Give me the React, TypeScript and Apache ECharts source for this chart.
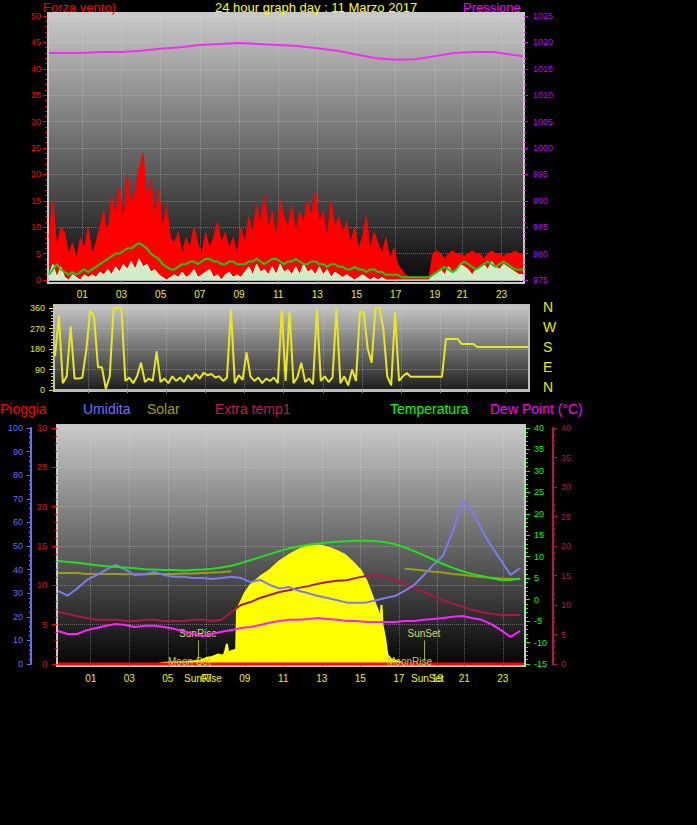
import React, { useEffect, useRef } from 'react';
import * as echarts from 'echarts';

// ---------- axis domain (sample position, roughly hours) ----------
const X_MIN = -0.7;
const X_MAX = 23.5;
const hourLabels = ['01', '03', '05', '07', '09', '11', '13', '15', '17', '19', '21', '23'];
const hourTickPos = [1, 3, 5, 7, 9, 11, 13, 15, 17, 19, 20.4, 22.4];

// ---------- top chart: wind (every 0.2 step) ----------
const windGust = [
  8, 15, 6, 10, 9, 5, 7, 4, 8, 6,
  10, 5, 7, 10, 13, 8, 16, 12, 18, 11,
  20, 14, 17, 21, 24, 15, 19, 12, 17, 10,
  14, 8, 7, 9, 5, 8, 6, 10, 7, 5,
  9, 6, 8, 11, 7, 9, 6, 8, 5, 10,
  7, 12, 9, 14, 11, 16, 10, 13, 8, 15,
  12, 10, 14, 9, 13, 11, 15, 12, 17, 11,
  13, 8, 15, 10, 12, 9, 11, 7, 10, 6,
  8, 12, 6, 9, 7, 5, 8, 4, 6, 3,
  2, 1, 0.5, 0.5, 0.5, 0.5, 0.5, 0.5, 5, 5.5,
  5, 4, 5, 5.5, 5, 5, 4.5, 5, 5.5, 5,
  5, 4, 5, 5.5, 5, 5, 4.5, 5, 5, 5.5,
  5, 5,
];
const windAvg = [
  1, 2, 3, 2, 1.5, 1, 1.5, 1, 1.5, 2,
  1.5, 2, 2.5, 3, 3.5, 4, 4.5, 5, 5, 5.5,
  6, 6, 6.5, 7, 6.5, 6, 5, 4.5, 4, 3,
  2.5, 2, 2, 2.5, 3, 3, 3.5, 3.5, 3, 3.5,
  4, 4, 3.5, 3.5, 3, 3, 3.5, 3.5, 3, 3,
  3, 3.5, 3.5, 4, 3.5, 3, 3.5, 4, 4, 3.5,
  3, 3.5, 3.5, 4, 3.5, 3, 3, 3.5, 3.5, 3,
  3, 2.5, 3, 3, 2.5, 2.5, 2, 2, 2.5, 2,
  2, 1.5, 2, 2, 1.5, 1.5, 1, 1, 1, 1,
  0.5, 0.5, 0.5, 0.5, 0.5, 0.5, 0.5, 0.5, 1, 1.5,
  2, 2.5, 2, 1.5, 2, 3, 3.5, 3, 2.5, 2,
  2.5, 3, 3.5, 3, 2.5, 3, 3.5, 3, 2.5, 2,
  2, 2,
];
const windNow = [
  1, 3, 0.5, 2.5, 0.5, 0, 1, 0.5, 0, 1,
  0.5, 1, 0.5, 1.5, 1, 2, 1, 2.5, 1.5, 3,
  2, 3.5, 2, 4, 2.5, 3, 1.5, 2, 1, 0.5,
  0, 0.5, 1, 0.5, 1.5, 0.5, 1, 2, 0.5, 1,
  1.5, 2, 0.5, 1, 0, 1, 1.5, 0.5, 1, 0.5,
  1.5, 2.5, 1, 3, 1.5, 2, 1, 2.5, 1, 3,
  1.5, 2, 1, 2.5, 1, 3, 1.5, 2, 1, 2.5,
  1, 2, 0.5, 1.5, 1, 0.5, 1, 0.5, 0, 0.5,
  1, 0.5, 0, 0.5, 0, 0.5, 0, 0, 0, 0,
  0, 0, 0, 0, 0, 0, 0, 0, 1, 1.5,
  2, 1, 2.5, 1.5, 2, 3, 2.5, 2, 1, 2,
  2.5, 3, 2, 3.5, 2.5, 2, 3, 2.5, 2, 1.5,
  1, 1,
];
const pressureTimes = [-0.7, 1, 2, 3, 4, 5, 6, 7, 8, 9, 10, 11, 12, 13, 14, 15, 16, 17, 18, 19, 20, 21, 22, 23, 23.5];
const pressure = [
  1018.0, 1018.0, 1018.2, 1018.2, 1018.4, 1018.8, 1019.1, 1019.5, 1019.7, 1019.9,
  1019.7, 1019.5, 1019.3, 1018.9, 1018.4, 1017.7, 1017.0, 1016.7, 1016.8, 1017.4,
  1018.0, 1018.2, 1018.2, 1017.6, 1017.4,
];

// ---------- middle chart: wind direction (every 0.2 step) ----------
const windDir = [
  150, 325, 30, 60, 280, 50, 50, 55, 175, 350,
  320, 100, 100, 5, 60, 360, 360, 360, 40, 55,
  30, 60, 120, 35, 50, 40, 170, 35, 50, 30,
  60, 40, 55, 35, 65, 45, 70, 50, 75, 65,
  70, 55, 60, 40, 55, 355, 30, 65, 45, 165,
  60, 40, 55, 30, 50, 40, 55, 30, 350, 40,
  345, 30, 55, 120, 35, 50, 25, 355, 40, 60,
  35, 55, 360, 30, 60, 20, 90, 40, 345, 340,
  180, 120, 360, 360, 270, 60, 20, 340, 40, 60,
  75, 58, 58, 58, 58, 58, 58, 58, 58, 58,
  224, 224, 224, 224, 202, 202, 202, 202, 189, 189,
  189, 189, 189, 189, 189, 189, 189, 189, 189, 189,
  189, 189,
];
const compassLabels = ['N', 'W', 'S', 'E', 'N'];

// ---------- bottom chart (every 0.5 step) ----------
const humidity = [
  31, 29, 32, 35.6, 37.7, 40, 42, 40, 37.7, 38,
  39, 37.7, 37, 37, 36.4, 36.4, 36, 36.4, 37, 36.4,
  34.7, 35.6, 33.5, 32, 32.6, 31, 30, 28.8, 28, 27,
  26, 26, 26, 27, 28, 28.8, 31, 33.5, 37.7, 42,
  46, 56, 69, 65, 57, 50, 44, 37.7, 40.7,
];
const temperature = [
  9.0, 8.8, 8.6, 8.3, 8.0, 7.8, 7.6, 7.5, 7.3, 7.1,
  7.0, 6.9, 6.9, 6.8, 6.9, 7.0, 7.2, 7.5, 7.9, 8.5,
  9.2, 9.9, 10.6, 11.3, 11.9, 12.4, 12.8, 13.1, 13.3, 13.5,
  13.6, 13.7, 13.7, 13.6, 13.4, 12.9, 12.2, 11.3, 10.3, 9.3,
  8.3, 7.4, 6.6, 6.0, 5.5, 5.0, 4.6, 4.6, 4.9,
];
const dewPoint = [
  -7.3, -8.0, -8.0, -7.1, -6.6, -6.1, -5.7, -5.9, -6.4, -6.1,
  -6.1, -6.4, -6.8, -7.3, -8.0, -8.5, -8.0, -7.5, -7.1, -6.6,
  -6.4, -5.9, -5.4, -5.0, -4.7, -4.7, -4.5, -4.3, -4.5, -4.7,
  -5.0, -5.0, -5.2, -5.2, -5.2, -5.2, -5.0, -5.0, -4.7, -4.5,
  -4.3, -4.0, -3.8, -4.3, -4.7, -5.7, -7.1, -8.7, -7.3,
];
const extraTemp1 = [
  8.8, 8.5, 8.1, 7.8, 7.5, 7.5, 7.5, 7.3, 7.3, 7.5,
  7.5, 7.3, 7.3, 7.3, 7.5, 7.5, 7.3, 7.5, 8.8, 10.0,
  10.5, 11.2, 11.7, 12.2, 12.5, 12.9, 13.2, 13.6, 13.9, 14.1,
  14.2, 14.6, 14.9, 15.1, 14.9, 14.2, 13.6, 12.9, 12.2, 11.5,
  10.8, 10.2, 9.7, 9.2, 8.8, 8.5, 8.3, 8.3, 8.3,
];
const solarLine = [
  6.2, 6.2, 6.2, 6.0, 6.0, 6.0, 6.0, 5.9, 5.9, 5.9,
  6.0, 6.0, 6.0, 6.1, 6.1, 6.2, 6.3, 6.4, 6.6, null,
  null, null, null, null, null, null, null, null, null, null,
  null, null, null, null, null, null, 7.2, 7.0, 6.8, 6.5,
  6.3, 6.0, 5.8, 5.5, 5.3, 5.1, 4.9, 4.8, 4.8,
];
const solarTimes = [
  -0.7, 4.5, 4.8, 6.0, 6.7, 7.0, 7.3, 7.6, 7.9, 8.0, 8.07, 8.15, 8.3, 8.55,
  8.6, 9.0, 9.3, 9.8, 10.3, 10.8, 11.3, 11.8, 12.1, 12.6, 13.0, 13.4, 13.8, 14.2,
  14.6, 15.0, 15.3, 15.5, 15.7, 15.9, 16.05, 16.1, 16.15, 16.3, 16.4, 16.6, 17.0, 17.3, 23.5,
];
const solarValues = [
  0, 0, 5, 8, 15, 25, 30, 40, 35, 60, 85, 45, 55, 60,
  229, 300, 335, 370, 398, 435, 462, 485, 496, 504, 500, 492, 478, 462,
  432, 398, 355, 314, 270, 229, 190, 250, 165, 102, 40, 20, 10, 0, 0,
];
const rainTimes = [-0.7, 23.5];
const rainValues = [0, 0];
const sunRise = 6.57;
const sunSet = 18.3;

const zip = (xs: number[], ys: (number | null)[]) => ys.map((y, i) => [xs[i], y]);
const topTimes = windGust.map((_, i) => +(X_MIN + i * 0.2).toFixed(2));
const bottomTimes = humidity.map((_, i) => +(X_MIN + i * 0.5).toFixed(2));

const FONT = 'Arial, "Liberation Sans", sans-serif';

const xLabelFmt = (v: number) => {
  let best = 0;
  for (let i = 0; i < hourTickPos.length; i++) {
    if (Math.abs(hourTickPos[i] - v) < Math.abs(hourTickPos[best] - v)) best = i;
  }
  return hourLabels[best];
};

const grad = (stops: [number, string][]) => ({
  type: 'linear', x: 0, y: 0, x2: 0, y2: 1,
  colorStops: stops.map(([offset, color]) => ({ offset, color })),
});

const dotted = { show: true, lineStyle: { color: 'rgba(225,225,225,0.35)', type: 'dotted', width: 1 } };

const makeX = (gridIndex: number, showLabel: boolean) => ({
  gridIndex, type: 'value', min: X_MIN, max: X_MAX,
  axisLine: { show: true, lineStyle: { color: '#b8b8b8', width: 2 } },
  axisTick: { show: true, customValues: hourTickPos, length: 3, lineStyle: { color: '#909090' } },
  axisLabel: {
    show: showLabel, customValues: hourTickPos, formatter: xLabelFmt,
    color: '#f0f000', fontSize: 10, fontFamily: FONT, margin: 9,
  },
  splitLine: dotted,
});

// main axes: labels (+ optional split lines), ticks come from companion axes
const yAx = (o: any) => ({
  type: 'value',
  axisLine: { show: false },
  axisTick: { show: false },
  axisLabel: {
    color: o.labelColor || o.color, fontSize: 9, fontFamily: FONT, margin: o.margin ?? 7,
    formatter: (v: number) => String(v),
  },
  splitLine: { show: false },
  ...o.extra,
  gridIndex: o.gridIndex, min: o.min, max: o.max, interval: o.interval,
  position: o.position, offset: o.offset || 0,
});

// companion axes that only draw ticks
const tickAx = (gridIndex: number, min: number, max: number, interval: number, position: string, offset: number, color: string, length: number) => ({
  type: 'value', gridIndex, min, max, interval, position, offset,
  axisLine: { show: false },
  axisTick: { show: true, length, lineStyle: { color } },
  axisLabel: { show: false },
  splitLine: { show: false },
});

const text = (x: number, y: number, t: string, fill: string, size: number, align = 'left') => ({
  type: 'text', x, y, z: 50, silent: true,
  style: { text: t, fill, font: `${size}px ${FONT}`, textAlign: align, textVerticalAlign: 'middle', verticalAlign: 'middle' },
});

export default function App() {
  const ref = useRef<HTMLDivElement>(null);
  useEffect(() => {
    if (!ref.current) return;
    const chart = echarts.init(ref.current, null, { renderer: 'svg' });
    const lineBase = { type: 'line', showSymbol: false, symbol: 'none', smooth: false, animation: false, connectNulls: false };
    const option: any = {
      animation: false,
      backgroundColor: '#000000',
      grid: [
        { left: 49, top: 16, width: 474, height: 264 },
        { left: 55, top: 308, width: 473, height: 82 },
        { left: 58, top: 428, width: 466, height: 236 },
      ],
      xAxis: [makeX(0, true), makeX(1, false), makeX(2, true)],
      yAxis: [
        // 0-7: main axes
        yAx({ gridIndex: 0, min: 0, max: 50, interval: 5, position: 'left', offset: 2, color: '#ff0000', margin: 6,
          extra: { splitLine: dotted } }),
        yAx({ gridIndex: 0, min: 975, max: 1025, interval: 5, position: 'right', offset: 1, color: '#e000e0', labelColor: '#c000ff', margin: 9 }),
        yAx({ gridIndex: 1, min: 0, max: 360, interval: 90, position: 'left', offset: 2, color: '#e8e800', margin: 8,
          extra: { splitLine: dotted } }),
        yAx({ gridIndex: 2, min: 0, max: 30, interval: 5, position: 'left', offset: 1, color: '#ff0000', margin: 10,
          extra: { splitLine: dotted } }),
        yAx({ gridIndex: 2, min: 0, max: 100, interval: 10, position: 'left', offset: 27, color: '#6a6aff', margin: 8,
          extra: { axisLine: { show: true, lineStyle: { color: '#6a6aff', width: 2 } } } }),
        yAx({ gridIndex: 2, min: -15, max: 40, interval: 5, position: 'right', offset: 2, color: '#00ff00', margin: 8 }),
        yAx({ gridIndex: 2, min: 0, max: 40, interval: 5, position: 'right', offset: 29, color: '#b01848', margin: 8,
          extra: { axisLine: { show: true, lineStyle: { color: '#b01848', width: 2 } } } }),
        { gridIndex: 2, type: 'value', min: 0, max: 1000, show: false, position: 'right', splitLine: { show: false } },
        // 8-14: small ticks
        tickAx(0, 0, 50, 1, 'left', 2, '#ff0000', 2),
        tickAx(0, 975, 1025, 1, 'right', 1, '#e000e0', 2),
        tickAx(1, 0, 360, 15, 'left', 2, '#e8e800', 2),
        tickAx(2, 0, 30, 1, 'left', 1, '#ff0000', 2),
        tickAx(2, 0, 100, 2, 'left', 27, '#6a6aff', 2),
        tickAx(2, -15, 40, 1, 'right', 2, '#00ff00', 2),
        tickAx(2, 0, 40, 1, 'right', 29, '#b01848', 2),
        // 15-21: major ticks
        tickAx(0, 0, 50, 5, 'left', 2, '#ff0000', 4),
        tickAx(0, 975, 1025, 5, 'right', 1, '#e000e0', 4),
        tickAx(1, 0, 360, 90, 'left', 2, '#e8e800', 4),
        tickAx(2, 0, 30, 5, 'left', 1, '#ff0000', 5),
        tickAx(2, 0, 100, 10, 'left', 27, '#6a6aff', 4),
        tickAx(2, -15, 40, 5, 'right', 2, '#00ff00', 4),
        tickAx(2, 0, 40, 5, 'right', 29, '#b01848', 4),
      ],
      series: [
        // top
        { ...lineBase, name: 'Forza vento', xAxisIndex: 0, yAxisIndex: 0, z: 2, data: zip(topTimes, windGust),
          lineStyle: { color: '#ff0000', width: 1 }, itemStyle: { color: '#ff0000' }, areaStyle: { color: '#ff0000', opacity: 1 } },
        { ...lineBase, name: 'Vento', xAxisIndex: 0, yAxisIndex: 0, z: 3, data: zip(topTimes, windNow),
          lineStyle: { color: '#e8ffe0', width: 1 }, itemStyle: { color: '#e8ffe0' }, areaStyle: { color: '#cfeec8', opacity: 1 } },
        { ...lineBase, name: 'Media', xAxisIndex: 0, yAxisIndex: 0, z: 4, data: zip(topTimes, windAvg),
          lineStyle: { color: '#10d010', width: 2 }, itemStyle: { color: '#10d010' } },
        { ...lineBase, name: 'Pressione', xAxisIndex: 0, yAxisIndex: 1, z: 4, data: zip(pressureTimes, pressure),
          lineStyle: { color: '#f030f0', width: 2 }, itemStyle: { color: '#f030f0' } },
        // middle
        { ...lineBase, name: 'Direzione', xAxisIndex: 1, yAxisIndex: 2, z: 3, data: zip(topTimes, windDir),
          lineStyle: { color: '#e8e820', width: 2 }, itemStyle: { color: '#e8e820' } },
        // bottom
        { ...lineBase, name: 'SolarLine', xAxisIndex: 2, yAxisIndex: 5, z: 2, data: zip(bottomTimes, solarLine),
          lineStyle: { color: '#9c9c1c', width: 2 }, itemStyle: { color: '#9c9c1c' } },
        { ...lineBase, name: 'Solar', xAxisIndex: 2, yAxisIndex: 7, z: 3, data: zip(solarTimes, solarValues),
          lineStyle: { color: '#ffff00', width: 2 }, itemStyle: { color: '#ffff00' }, areaStyle: { color: '#ffff00', opacity: 1 } },
        { ...lineBase, name: 'Pioggia', xAxisIndex: 2, yAxisIndex: 3, z: 4, data: zip(rainTimes, rainValues),
          lineStyle: { color: '#ff0000', width: 3 }, itemStyle: { color: '#ff0000' },
          markLine: {
            silent: true, symbol: 'none', animation: false,
            lineStyle: { color: '#a8a838', type: 'solid', width: 1 },
            label: { show: true, position: 'end', formatter: '{b}', color: '#d8d860', fontSize: 10, fontFamily: FONT, distance: 2 },
            data: [
              [{ name: 'SunRise', coord: [sunRise, 0.4] }, { coord: [sunRise, 3] }],
              [{ name: 'SunSet', coord: [sunSet, 0.4] }, { coord: [sunSet, 3] }],
            ],
          } },
        { ...lineBase, name: 'Extra temp1', xAxisIndex: 2, yAxisIndex: 6, z: 5, data: zip(bottomTimes, extraTemp1),
          lineStyle: { color: '#a81848', width: 2 }, itemStyle: { color: '#a81848' } },
        { ...lineBase, name: 'Umidita', xAxisIndex: 2, yAxisIndex: 4, z: 6, data: zip(bottomTimes, humidity),
          lineStyle: { color: '#7c7cf0', width: 2 }, itemStyle: { color: '#7c7cf0' } },
        { ...lineBase, name: 'Temperatura', xAxisIndex: 2, yAxisIndex: 5, z: 6, data: zip(bottomTimes, temperature),
          lineStyle: { color: '#20e020', width: 2 }, itemStyle: { color: '#20e020' } },
        { ...lineBase, name: 'Dew Point', xAxisIndex: 2, yAxisIndex: 5, z: 6, data: zip(bottomTimes, dewPoint),
          lineStyle: { color: '#ff20ff', width: 2 }, itemStyle: { color: '#ff20ff' } },
      ],
      graphic: [
        // plot backgrounds
        { type: 'rect', z: -10, silent: true, shape: { x: 48, y: 13, width: 476, height: 270 },
          style: { fill: grad([[0, '#cacaca'], [0.5, '#6a6a6a'], [1, '#080808']]), stroke: '#c8c8c8', lineWidth: 2 } },
        { type: 'rect', z: -10, silent: true, shape: { x: 54, y: 305, width: 475, height: 86 },
          style: { fill: grad([[0, '#c8c8c8'], [1, '#1c1c1c']]), stroke: '#c0c0c0', lineWidth: 2 } },
        { type: 'rect', z: -10, silent: true, shape: { x: 57, y: 425, width: 468, height: 241 },
          style: { fill: grad([[0, '#cacaca'], [0.5, '#666666'], [1, '#040404']]), stroke: '#c8c8c8', lineWidth: 2 } },
        // titles
        text(43, 7, 'Forza vento)', '#ff0000', 13),
        text(215, 7, '24 hour graph day : 11 Marzo 2017', '#ffff00', 13),
        text(463, 7, 'Pressione', '#ff00ff', 13),
        // compass labels
        ...compassLabels.map((c, i) => text(543, 307 + i * 20, c, '#e8e800', 14)),
        // bottom legend
        text(0, 409, 'Pioggia', '#ff0000', 14),
        text(83, 409, 'Umidita', '#7070ff', 14),
        text(147, 409, 'Solar', '#a0a000', 14),
        text(215, 409, 'Extra temp1', '#c01850', 14),
        text(390, 409, 'Temperatura', '#00ff00', 14),
        text(490, 409, 'Dew Point (°C)', '#ff00ff', 14),
        // moon / sun annotations
        text(168, 661, 'Moon Set', '#c8c848', 10),
        text(387, 661, 'MoonRise', '#c8c848', 10),
        text(184, 678, 'SunRise', '#f0f000', 10),
        text(411, 678, 'SunSet', '#f0f000', 10),
      ],
    };
    chart.setOption(option);
    return () => chart.dispose();
  }, []);
  return (
    <div
      ref={ref}
      style={{ position: 'fixed', left: 0, top: 0, width: 697, height: 825, background: '#000' }}
    />
  );
}
